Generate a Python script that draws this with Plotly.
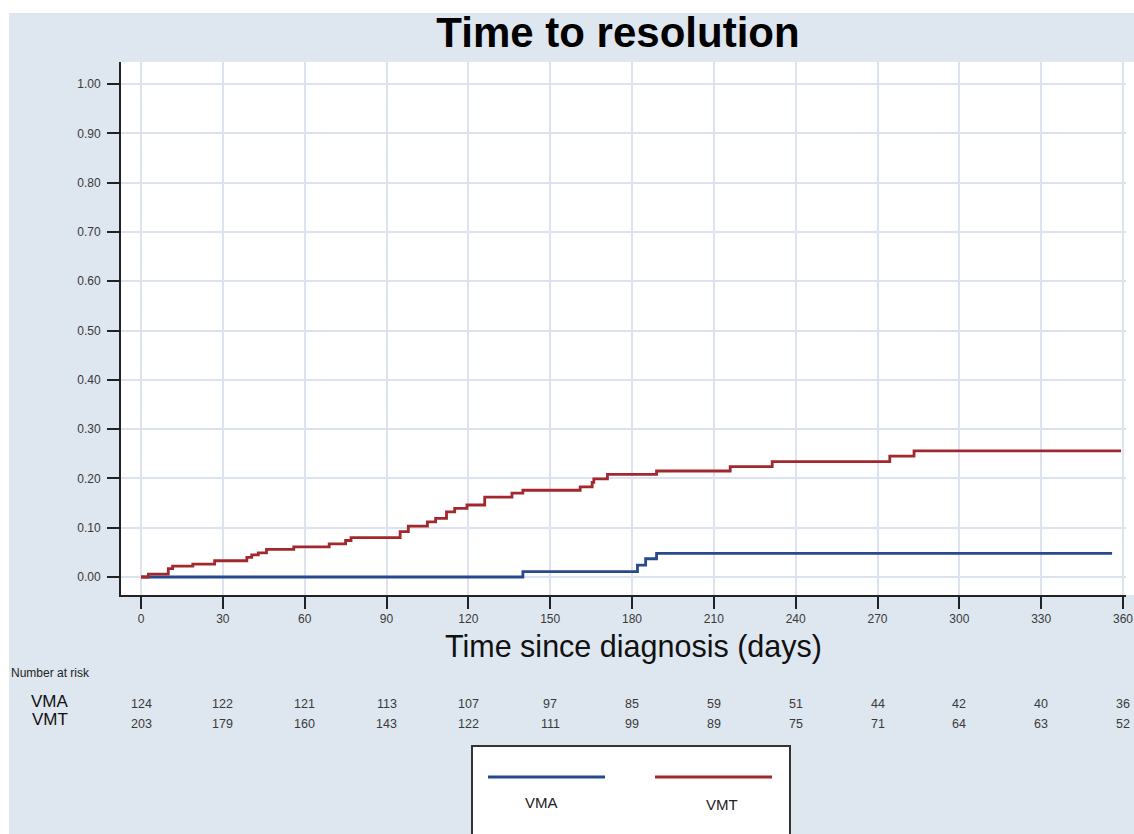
import plotly.graph_objects as go

# ---------------- data ----------------
vmt_days = [0, 2.7, 10, 11.6, 19, 27, 38.8, 40.6, 43, 46, 56, 69, 75, 77, 95, 98, 105, 108, 112, 115,
            119.5, 126, 136, 140, 161, 165.4, 166, 171, 189, 216, 231.4, 274.5, 283.4, 359.3]
vmt_prob = [0, 0.006, 0.017, 0.022, 0.026, 0.033, 0.040, 0.045, 0.049, 0.056, 0.061, 0.067, 0.074, 0.080,
            0.092, 0.103, 0.112, 0.119, 0.132, 0.139, 0.146, 0.162, 0.170, 0.176, 0.183, 0.192, 0.199,
            0.208, 0.215, 0.224, 0.234, 0.245, 0.256, 0.256]
vma_days = [0, 140, 182, 185, 189, 356]
vma_prob = [0, 0.011, 0.024, 0.037, 0.048, 0.048]

risk_days = [0, 30, 60, 90, 120, 150, 180, 210, 240, 270, 300, 330, 360]
vma_risk = [124, 122, 121, 113, 107, 97, 85, 59, 51, 44, 42, 40, 36]
vmt_risk = [203, 179, 160, 143, 122, 111, 99, 89, 75, 71, 64, 63, 52]
y_ticks = [0.0, 0.1, 0.2, 0.3, 0.4, 0.5, 0.6, 0.7, 0.8, 0.9, 1.0]
y_tick_text = ["%.2f" % v for v in y_ticks]

title_text = "Time to resolution"
xtitle_text = "Time since diagnosis (days)"
series_names = ["VMA", "VMT"]

# ---------------- styles ----------------
W, H = 1134, 834
L, R, T, B = 121, 8, 62, 239
PW, PH = W - L - R, H - T - B
BG = "#dee6ef"
GRID = "#dde2f0"
AX = "#222222"
TXT = "#3a3a3a"
RED = "#a3282e"
BLUE = "#274a8c"
FONT = "Liberation Sans, Arial, sans-serif"

px_per_day = 982 / 360.0
x_lo = -20 / px_per_day
x_hi = 360 + 3 / px_per_day
y_lo = (577 - 595) / 493.0
y_hi = (577 - 62) / 493.0


def fx(p):
    return (p - L) / PW


def fy(p):
    return 1 - (p - T) / PH


fig = go.Figure()
fig.add_trace(go.Scatter(x=vma_days, y=vma_prob, mode="lines", line_shape="hv",
                         line=dict(color=BLUE, width=2.8), name=series_names[0], showlegend=False))
fig.add_trace(go.Scatter(x=vmt_days, y=vmt_prob, mode="lines", line_shape="hv",
                         line=dict(color=RED, width=2.8), name=series_names[1], showlegend=False))

shapes = [
    dict(type="rect", xref="paper", yref="paper", x0=fx(9), x1=fx(W + 5), y0=fy(H + 5), y1=fy(13),
         fillcolor=BG, line=dict(width=0), layer="below"),
    dict(type="rect", xref="paper", yref="paper", x0=fx(L), x1=fx(W + 5), y0=fy(595), y1=fy(62),
         fillcolor="white", line=dict(width=0), layer="below"),
    # legend box
    dict(type="rect", xref="paper", yref="paper", x0=fx(472), x1=fx(790), y0=fy(H + 10), y1=fy(746),
         fillcolor="white", line=dict(color="#333333", width=2), layer="above"),
    dict(type="line", xref="paper", yref="paper", x0=fx(488), x1=fx(605), y0=fy(777), y1=fy(777),
         line=dict(color=BLUE, width=3)),
    dict(type="line", xref="paper", yref="paper", x0=fx(655), x1=fx(772), y0=fy(777), y1=fy(777),
         line=dict(color=RED, width=3)),
]

ann = []
ann.append(dict(text=xtitle_text, xref="paper", yref="paper", x=fx(633), y=fy(646),
                xanchor="center", yanchor="middle", showarrow=False,
                font=dict(family=FONT, size=30.5, color="#111111")))
ann.append(dict(text="Number at risk", xref="paper", yref="paper", x=fx(9), y=fy(673),
                xanchor="left", yanchor="middle", showarrow=False,
                font=dict(family=FONT, size=12, color="#222222")))
ann.append(dict(text=series_names[0], xref="paper", yref="paper", x=fx(49.5), y=fy(701),
                xanchor="center", yanchor="middle", showarrow=False,
                font=dict(family=FONT, size=17, color="#111111")))
ann.append(dict(text=series_names[1], xref="paper", yref="paper", x=fx(49.5), y=fy(719),
                xanchor="center", yanchor="middle", showarrow=False,
                font=dict(family=FONT, size=17, color="#111111")))
for d, a, b in zip(risk_days, vma_risk, vmt_risk):
    ann.append(dict(text=str(a), xref="x", yref="paper", x=d, y=fy(704), xanchor="center",
                    yanchor="middle", showarrow=False, font=dict(family=FONT, size=12.5, color=TXT)))
    ann.append(dict(text=str(b), xref="x", yref="paper", x=d, y=fy(724), xanchor="center",
                    yanchor="middle", showarrow=False, font=dict(family=FONT, size=12.5, color=TXT)))
ann.append(dict(text=series_names[0], xref="paper", yref="paper", x=fx(541), y=fy(802),
                xanchor="center", yanchor="middle", showarrow=False,
                font=dict(family=FONT, size=15, color="#222222")))
ann.append(dict(text=series_names[1], xref="paper", yref="paper", x=fx(722), y=fy(804),
                xanchor="center", yanchor="middle", showarrow=False,
                font=dict(family=FONT, size=15, color="#222222")))

fig.update_layout(
    template="none",
    width=W, height=H,
    margin=dict(l=L, r=R, t=T, b=B, pad=0, autoexpand=False),
    paper_bgcolor="white", plot_bgcolor="white",
    showlegend=False,
    title=dict(text=title_text, x=618 / W, xanchor="center", y=1 - 32 / H, yanchor="middle",
               xref="container", yref="container",
               font=dict(family=FONT, size=42, color="#000000", weight="bold")),
    shapes=shapes, annotations=ann,
    xaxis=dict(range=[x_lo, x_hi], tickvals=risk_days, ticktext=[str(v) for v in risk_days],
               automargin=False,
               showgrid=True, gridcolor=GRID, gridwidth=1.5, zeroline=False,
               showline=True, linecolor=AX, linewidth=2,
               ticks="outside", ticklen=12, tickwidth=2, tickcolor=AX,
               tickfont=dict(family=FONT, size=12, color=TXT)),
    yaxis=dict(range=[y_lo, y_hi], tickvals=y_ticks, ticktext=y_tick_text,
               automargin=False,
               showgrid=True, gridcolor=GRID, gridwidth=1.5, zeroline=False,
               showline=True, linecolor=AX, linewidth=2,
               ticks="outside", ticklen=12, tickwidth=2, tickcolor=AX, ticklabelstandoff=4,
               tickfont=dict(family=FONT, size=12, color=TXT)),
)

fig.write_html("out.html")
